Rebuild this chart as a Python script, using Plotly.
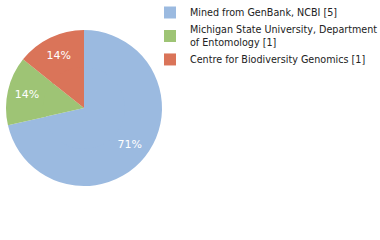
import plotly.graph_objects as go

labels = ["Mined from GenBank, NCBI [5]",
          "Michigan State University, Department<br>of Entomology [1]",
          "Centre for Biodiversity Genomics [1]"]
values = [5, 1, 1]
colors = ["#9bbae0", "#9ec475", "#da7459"]

cx, cy, r = 84, 108, 78
W, H = 380, 240
hole = 0.5

def dom(rad):
    return dict(x=[(cx - rad) / W, (cx + rad) / W],
                y=[(H - cy - rad) / H, (H - cy + rad) / H])

common = dict(labels=labels, values=values, sort=False, direction="clockwise",
              rotation=0, marker=dict(colors=colors, line=dict(width=0)),
              hoverinfo="skip")

fig = go.Figure()
fig.add_trace(go.Pie(
    **common, hole=hole, domain=dom(r),
    texttemplate="%{percent:.0%}", textposition="inside",
    insidetextorientation="horizontal",
    textfont=dict(color="white", size=11, family="DejaVu Sans"),
))
fig.add_trace(go.Pie(
    **common, domain=dom(r * hole + 2), textinfo="none", showlegend=False,
))
fig.update_layout(
    width=W, height=H,
    margin=dict(l=0, r=0, t=0, b=0, autoexpand=False),
    paper_bgcolor="white", plot_bgcolor="white",
    showlegend=True,
    legend=dict(x=150 / W, y=1 + 2 / H, xanchor="left", yanchor="top",
                bgcolor="rgba(0,0,0,0)",
                font=dict(family="DejaVu Sans", size=9.6, color="#222222"),
                itemclick=False, tracegroupgap=0),
)
fig.write_html("out.html")
